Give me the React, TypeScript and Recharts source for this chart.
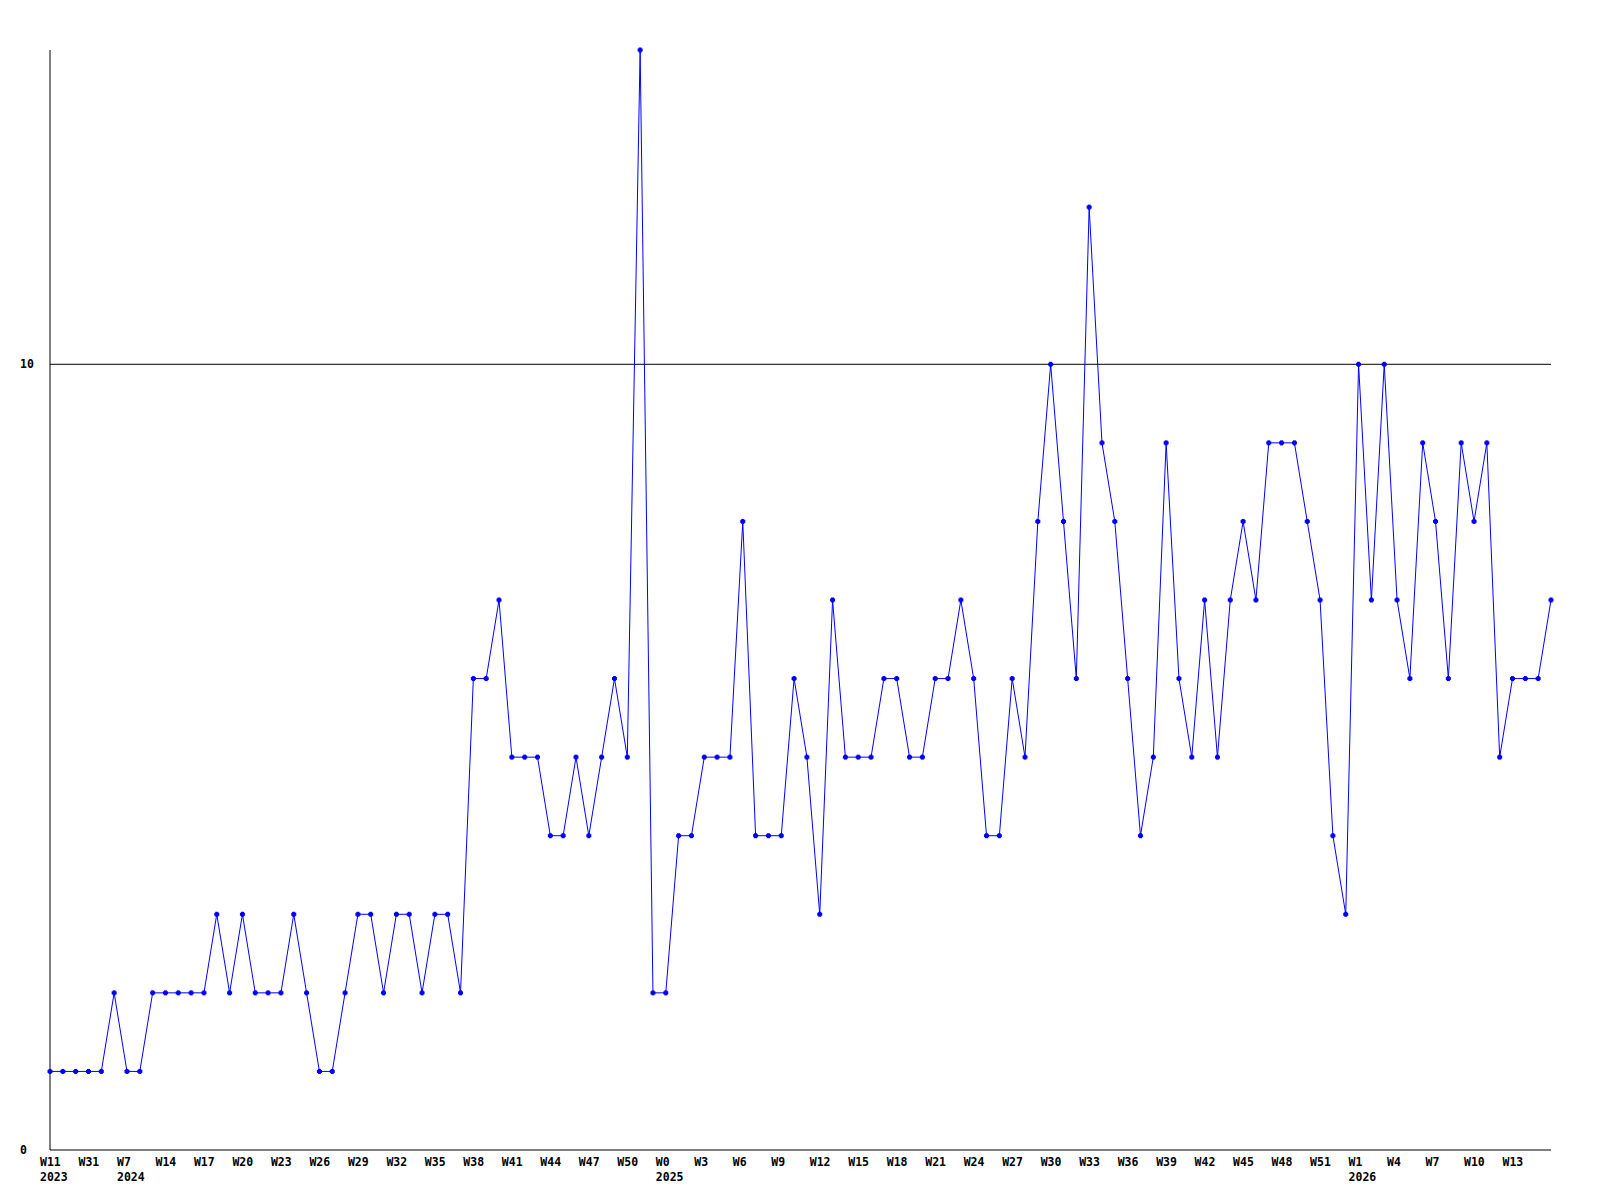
import { LineChart, Line, XAxis, YAxis, ReferenceLine } from 'recharts'

// week keys, one per point (the gaps at the start are as the source had them)
const weeks: string[] = [
    '2023-W11', '2023-W17', '2023-W24', '2023-W31', '2023-W40', '2023-W48',
    '2024-W7', '2024-W10', '2024-W12',
    '2024-W14', '2024-W15', '2024-W16', '2024-W17', '2024-W18', '2024-W19', '2024-W20', '2024-W21',
    '2024-W22', '2024-W23', '2024-W24', '2024-W25', '2024-W26', '2024-W27', '2024-W28', '2024-W29',
    '2024-W30', '2024-W31', '2024-W32', '2024-W33', '2024-W34', '2024-W35', '2024-W36', '2024-W37',
    '2024-W38', '2024-W39', '2024-W40', '2024-W41', '2024-W42', '2024-W43', '2024-W44', '2024-W45',
    '2024-W46', '2024-W47', '2024-W48', '2024-W49', '2024-W50', '2024-W51', '2024-W52',
    '2025-W0', '2025-W1', '2025-W2', '2025-W3', '2025-W4', '2025-W5', '2025-W6', '2025-W7',
    '2025-W8', '2025-W9', '2025-W10', '2025-W11', '2025-W12', '2025-W13', '2025-W14', '2025-W15',
    '2025-W16', '2025-W17', '2025-W18', '2025-W19', '2025-W20', '2025-W21', '2025-W22', '2025-W23',
    '2025-W24', '2025-W25', '2025-W26', '2025-W27', '2025-W28', '2025-W29', '2025-W30', '2025-W31',
    '2025-W32', '2025-W33', '2025-W34', '2025-W35', '2025-W36', '2025-W37', '2025-W38', '2025-W39',
    '2025-W40', '2025-W41', '2025-W42', '2025-W43', '2025-W44', '2025-W45', '2025-W46', '2025-W47',
    '2025-W48', '2025-W49', '2025-W50', '2025-W51', '2025-W52',
    '2026-W0', '2026-W1', '2026-W2', '2026-W3', '2026-W4', '2026-W5', '2026-W6', '2026-W7',
    '2026-W8', '2026-W9', '2026-W10', '2026-W11', '2026-W12', '2026-W13', '2026-W14', '2026-W15',
    '2026-W16'
]

const counts: number[] = [
    1, 1, 1, 1, 1, 2, 1, 1, 2, 2, 2, 2, 2, 3, 2, 3, 2, 2, 2, 3, 2, 1, 1, 2, 3, 3, 2, 3, 3, 2, 3, 3, 2,
    6, 6, 7, 5, 5, 5, 4, 4, 5, 4, 5, 6, 5, 14, 2, 2, 4, 4, 5, 5, 5, 8, 4, 4, 4, 6, 5, 3, 7, 5,
    5, 5, 6, 6, 5, 5, 6, 6, 7, 6, 4, 4, 6, 5, 8, 10, 8, 6, 12, 9, 8, 6, 4, 5, 9, 6, 5, 7, 5, 7,
    8, 7, 9, 9, 9, 8, 7, 4, 3, 10, 7, 10, 7, 6, 9, 8, 6, 9, 8, 9, 5, 6, 6, 6, 7
]

const yTicks = [0, 10]

// every third week gets a label, the last point has none
const tickWeeks = weeks.filter((_, i) => i % 3 === 0 && i < weeks.length - 1)

const data = weeks.map((w, i) => ({ week: w, count: counts[i] }))

const FONT = '"DejaVu Sans Mono", monospace'
const BLUE = '#0000ff'

function WeekTick(props: any) {
    const { x, payload } = props
    const key: string = payload.value
    const [year, wk] = key.split('-')
    const pos = tickWeeks.indexOf(key)
    const prevYear = pos > 0 ? tickWeeks[pos - 1].split('-')[0] : null
    const showYear = year !== prevYear
    return (
        <g>
            <text x={x - 10} y={1166} textAnchor="start" fontFamily={FONT} fontWeight="bold" fontSize={11.5} fill="#000">
                {wk}
            </text>
            {showYear && (
                <text x={x - 10} y={1181} textAnchor="start" fontFamily={FONT} fontWeight="bold" fontSize={11.5} fill="#000">
                    {year}
                </text>
            )}
        </g>
    )
}

function CountTick(props: any) {
    const { y, payload } = props
    return (
        <text x={20} y={y} dy={4} textAnchor="start" fontFamily={FONT} fontWeight="bold" fontSize={11.5} fill="#000">
            {payload.value}
        </text>
    )
}

function Marker(props: any) {
    const { cx, cy, index } = props
    if (cx == null || cy == null) return <g key={index} />
    return (
        <g key={index} fill={BLUE}>
            <rect x={cx - 1.5} y={cy - 2.5} width={3} height={5} />
            <rect x={cx - 2.5} y={cy - 1.5} width={5} height={3} />
        </g>
    )
}

export default function App() {
    return (
        <div style={{ position: 'absolute', left: 0, top: 0, width: 1600, height: 1200, background: '#fff' }}>
            <LineChart width={1600} height={1200} data={data} margin={{ top: 50, right: 49, bottom: 0, left: 0 }}>
                <ReferenceLine y={10} stroke="#000" strokeWidth={1} />
                <XAxis
                    dataKey="week"
                    scale="point"
                    ticks={tickWeeks}
                    interval={0}
                    height={50}
                    tickLine={false}
                    axisLine={{ stroke: '#000', strokeWidth: 1 }}
                    tick={<WeekTick />}
                />
                <YAxis
                    domain={[0, 14]}
                    ticks={yTicks}
                    width={50}
                    tickLine={false}
                    axisLine={{ stroke: '#000', strokeWidth: 1 }}
                    tick={<CountTick />}
                />
                <Line
                    type="linear"
                    dataKey="count"
                    stroke={BLUE}
                    strokeWidth={1}
                    dot={Marker}
                    activeDot={false}
                    isAnimationActive={false}
                />
            </LineChart>
        </div>
    )
}
